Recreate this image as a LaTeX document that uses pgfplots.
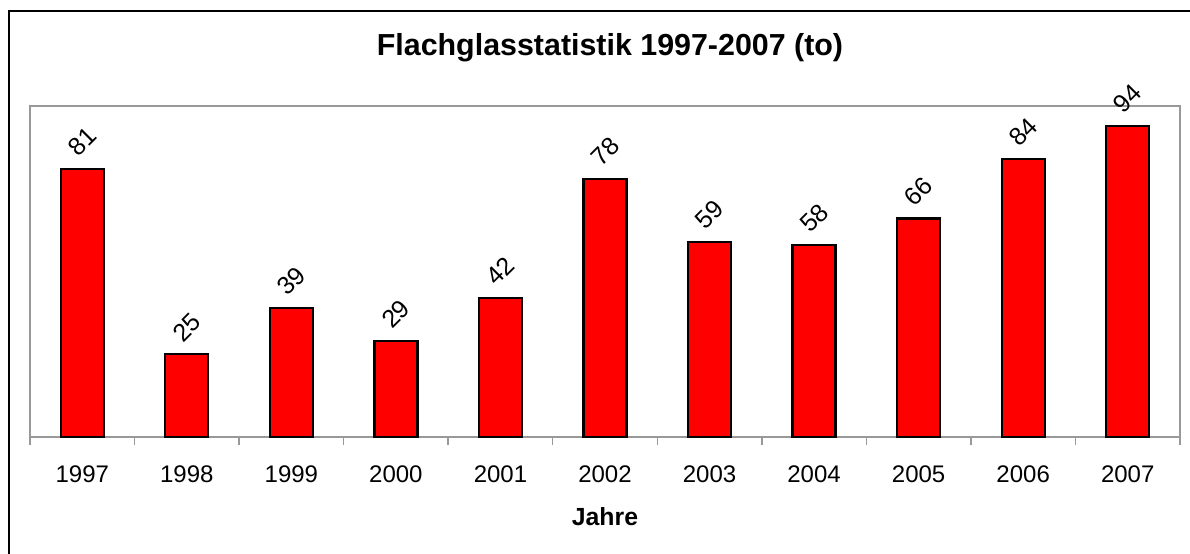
\documentclass[border=0pt]{standalone}
\usepackage{fontspec}
\setmainfont{Liberation Sans}
\usepackage{pgfplots}
\pgfplotsset{compat=1.18}

\begin{document}
\begin{tikzpicture}
% page: 1190x553 px at 0.5pt per px, origin = axis south west (px 30,437)
\useasboundingbox (-15pt,-58pt) rectangle (580pt,218.5pt);
\draw[black, line width=0.8pt] (-10.5pt,-60pt) -- (-10.5pt,213pt) -- (585pt,213pt);
\begin{axis}[
    scale only axis,
    width=575pt, height=165.5pt,
    at={(0,0)}, anchor=south west,
    xmin=-0.5, xmax=10.5,
    ymin=0, ymax=100,
    axis line style={gray!80, line width=1pt},
    ytick=\empty,
    xtick={0,...,10},
    xtick pos=bottom,
    xticklabels={1997,1998,1999,2000,2001,2002,2003,2004,2005,2006,2007},
    major tick length=0pt,
    minor xtick={-0.5,0.5,...,10.5},
    minor tick length=4pt,
    tick align=outside,
    x tick style={gray!80, line width=0.7pt},
    xticklabel style={anchor=base, yshift=-22.5pt, font=\fontsize{12}{14}\selectfont},
    xlabel={\textbf{Jahre}},
    xlabel style={at={(axis description cs:0.5,0)}, anchor=base, yshift=-44pt, font=\fontsize{12.4}{14}\selectfont},
    ybar, bar width=21.5pt,
    /pgf/number format/assume math mode=true,
    nodes near coords,
    every node near coord/.append style={anchor=center, yshift=13.5pt, rotate=45, font=\fontsize{12.5}{14}\selectfont},
    clip=false,
]
\addplot[fill=red, draw=black, line width=1.1pt] coordinates {
    (0,81) (1,25) (2,39) (3,29) (4,42) (5,78)
    (6,59) (7,58) (8,66) (9,84) (10,94)
};
\end{axis}
\node[anchor=base, font=\bfseries\fontsize{15.2}{18}\selectfont] at (290pt,191pt) {Flachglasstatistik 1997-2007 (to)};
\end{tikzpicture}
\end{document}
